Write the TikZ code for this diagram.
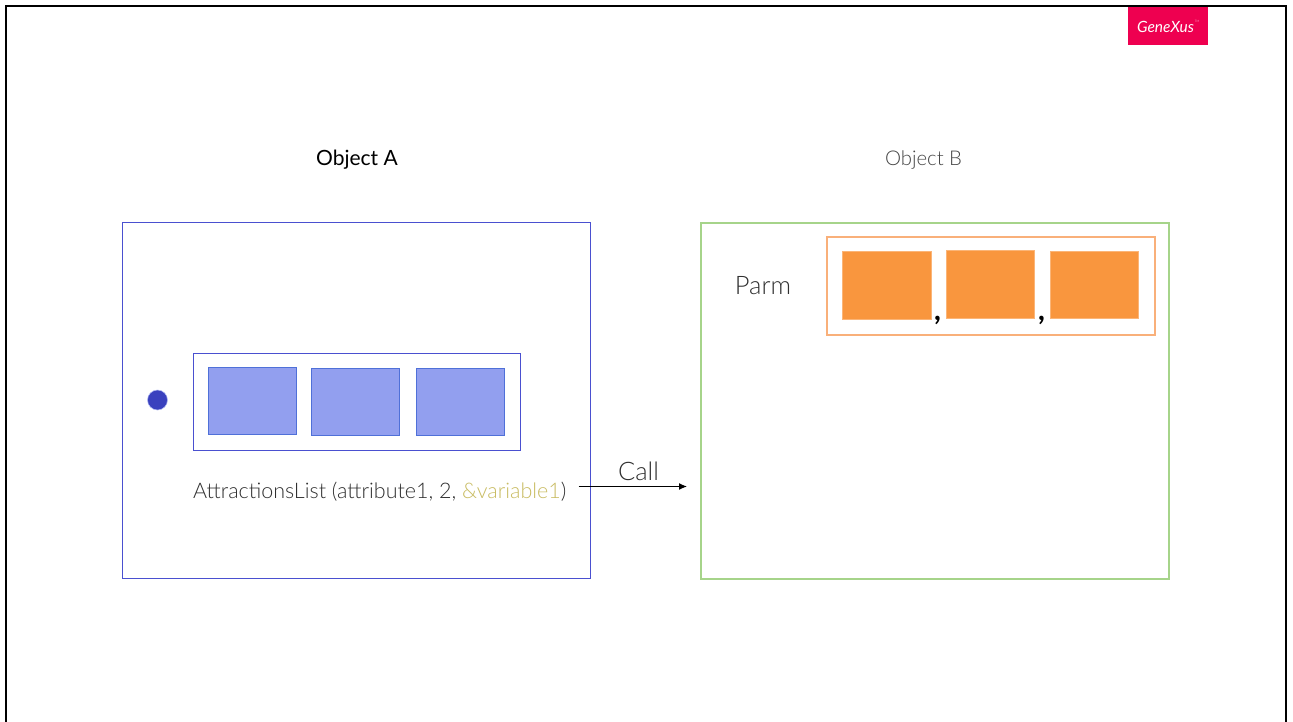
\documentclass[tikz,border=0pt]{standalone}
\usepackage{fontspec}
\usetikzlibrary{arrows.meta}
\setmainfont{Lato Light}
\newfontfamily\reg{Lato}
\definecolor{bluel}{HTML}{4A50D0}
\definecolor{bluef}{HTML}{929FEF}
\definecolor{blued}{HTML}{4F70D8}
\definecolor{dotb}{HTML}{3A41BE}
\definecolor{greenl}{HTML}{A6D48A}
\definecolor{orangel}{HTML}{F9B07A}
\definecolor{orangef}{HTML}{F9963E}
\definecolor{gxred}{HTML}{EE0050}
\definecolor{vargold}{HTML}{C9BC62}
\definecolor{txt}{HTML}{303030}
\tikzset{
  bluebox/.style={draw=bluel,line width=0.9pt,fill=white},
  greenbox/.style={draw=greenl,line width=2pt,fill=white},
  orangebox/.style={draw=orangel,line width=2pt,fill=white},
  bluesq/.style={draw=blued,line width=0.8pt,fill=bluef},
  orangesq/.style={draw=orangef!70!white,line width=0.6pt,fill=orangef},
  lbl/.style={inner sep=0pt,text=txt,anchor=base},
}
\begin{document}
\begin{tikzpicture}[x=1pt,y=-1pt]
\useasboundingbox (0,0) rectangle (1293,722);
\fill[white] (0,0) rectangle (1293,722);
\draw[black,line width=2.2pt] (6,730) -- (6,6) -- (1286,6) -- (1286,730);
% logo
\node[fill=gxred,minimum width=80pt,minimum height=38pt,inner sep=0pt,anchor=north west] (logo) at (1128,7) {};
\node[inner sep=0pt,text=white] (logotext) at (1165.5,26.5) {\reg\fontsize{15.5}{17}\selectfont\itshape GeneXus};
\node[inner sep=0pt,text=white] (tm) at (1197,21.5) {\fontsize{3}{3}\selectfont TM};
% titles
\node[lbl,text=black] (oa) at (357,165.5) {\reg\fontsize{21}{24}\selectfont Object A};
\node[lbl,text=txt!90!white] (ob) at (923.5,165.5) {\fontsize{20.3}{24}\selectfont Object B};
% containers
\draw[bluebox] (122.5,222.5) rectangle (590.5,578.5);
\draw[greenbox] (701,223) rectangle (1169,579);
% A
\draw[bluebox] (193,353.5) rectangle (520.5,450.5);
\draw[bluesq] (208.5,367.5) rectangle (296.5,434.5);
\draw[bluesq] (311.5,368) rectangle (399.5,435);
\draw[bluesq] (416,368.5) rectangle (504,435.5);
\node[circle,fill=dotb,draw=bluef!70!white,line width=0.5pt,minimum size=20pt,inner sep=0pt] (dot) at (157.5,400) {};
\node[lbl,anchor=base west] (call) at (193,498) {\fontsize{21.5}{26}\selectfont AttractionsList (attribute1, 2, \textcolor{vargold}{\&variable1})};
\coordinate (cs) at (578.5,486.5);
\coordinate (ce) at (687,486.5);
\draw[black,line width=1.1pt,-{Latex[length=8pt,width=7pt]}] (cs) -- (ce);
\node[lbl] (calllbl) at (638.5,480) {\fontsize{25.5}{28}\selectfont Call};
% B
\node[lbl] (parm) at (763,294) {\fontsize{25.5}{28}\selectfont Parm};
\draw[orangebox] (827,237) rectangle (1155,335);
\draw[orangesq] (842.5,251.5) rectangle (931,319);
\draw[orangesq] (946,250.5) rectangle (1034.5,318.5);
\draw[orangesq] (1050,251) rectangle (1138.5,318);
\node[lbl,text=black] (c1) at (938.5,320) {\reg\fontsize{30}{32}\selectfont\bfseries\itshape ,};
\node[lbl,text=black] (c2) at (1042.5,320) {\reg\fontsize{30}{32}\selectfont\bfseries\itshape ,};
\end{tikzpicture}
\end{document}
